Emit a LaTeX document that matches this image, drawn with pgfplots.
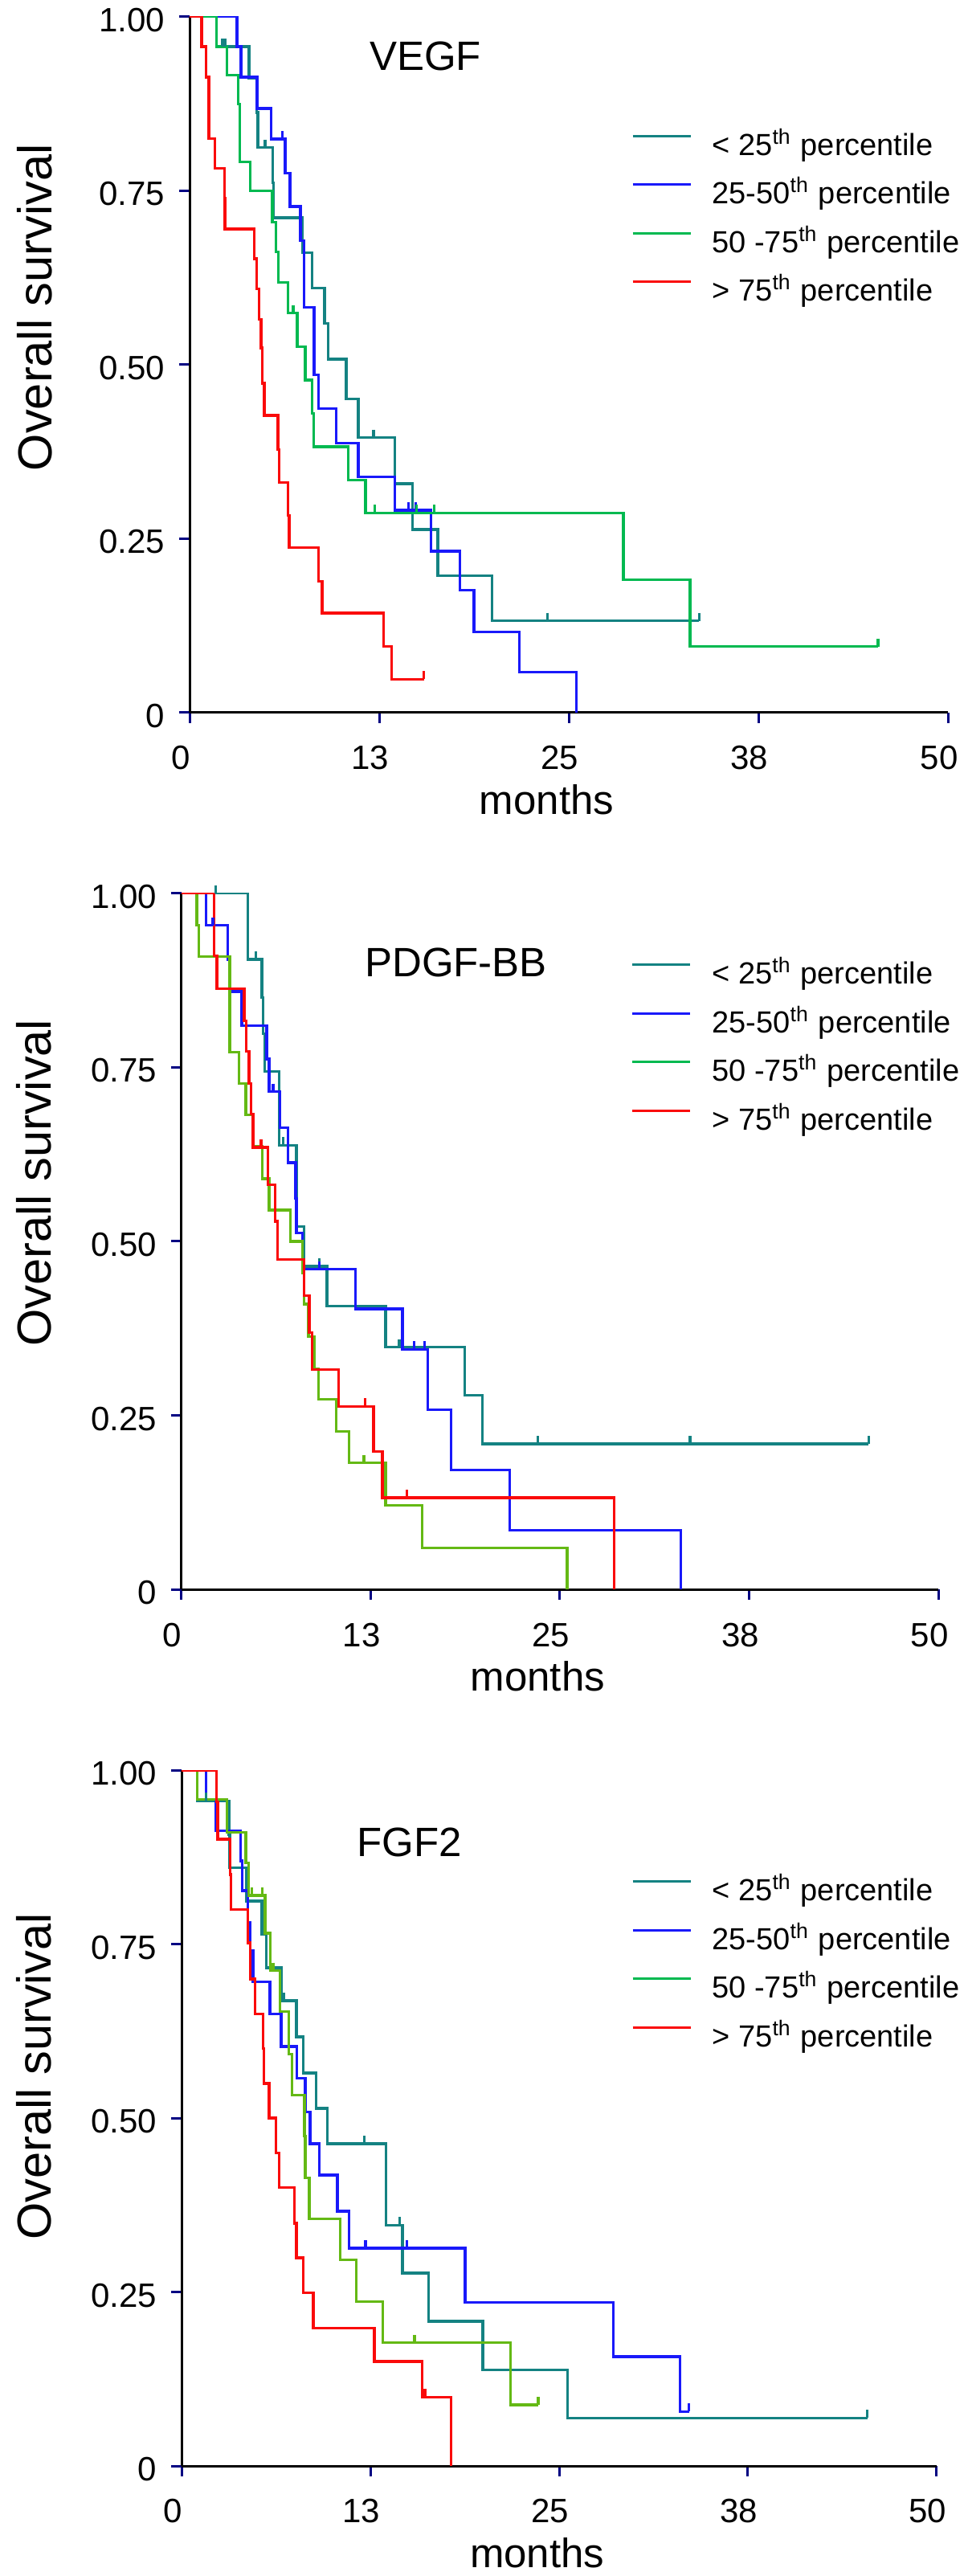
\documentclass[border=0pt]{standalone}
\usepackage{fontspec}
\setmainfont{Liberation Sans}
\usepackage{pgfplots}
\pgfplotsset{compat=1.18}

\definecolor{cteal}{RGB}{20,130,130}
\definecolor{cblue}{RGB}{25,25,250}
\definecolor{cgreen}{RGB}{0,185,80}
\definecolor{cygreen}{RGB}{100,185,20}
\definecolor{cred}{RGB}{250,10,10}
\definecolor{cnavy}{RGB}{0,0,130}

\pgfplotsset{
 km/.style={
  scale only axis,
  xmin=0,xmax=50,ymin=0,ymax=1,
  axis lines=left, axis line style={-, line width=0.6pt, black},
  xtick={0,12.5,25,37.5,50}, xticklabels={0,13,25,38,50},
  ytick={0,0.25,0.5,0.75,1}, yticklabels={0,0.25,0.50,0.75,1.00},
  tick align=outside, major tick length=2.6pt,
  tick style={cnavy, line width=0.6pt},
  ticklabel style={font=\fontsize{8.4}{10}\selectfont},
  xticklabel style={xshift=-2.2pt, yshift=-2.2pt},
  yticklabel style={yshift=-0.8pt},
  xlabel={months}, ylabel={Overall survival},
  xlabel style={font=\fontsize{10.2}{12}\selectfont, at={(axis description cs:0.471,-0.125)}, anchor=center},
  ylabel style={font=\fontsize{11.9}{14}\selectfont, anchor=center},
  title style={anchor=center, yshift=-6pt, font=\fontsize{10.2}{12}\selectfont},
  legend cell align=left,
  legend style={draw=none, fill=none, anchor=north west,
    font=\fontsize{7.6}{9}\selectfont, row sep=4.1pt,
    inner sep=0pt, nodes={inner sep=0pt, text height=6pt, text depth=2pt},
    cells={anchor=west}},
  legend image code/.code={\draw[#1, line width=0.6pt] (0pt,2.8pt) -- (14.4pt,2.8pt); \path (19.6pt,2.8pt);},
 },
 curve/.style={line width=0.68pt, const plot, forget plot},
 cens/.style={line width=0.68pt, only marks, mark=|, mark size=1pt, mark options={yshift=1pt}, forget plot},
}

\newcommand{\kmlegend}{%
  \addlegendimage{cteal}\addlegendentry{< 25\textsuperscript{th} percentile}
  \addlegendimage{cblue}\addlegendentry{25-50\textsuperscript{th} percentile}
  \addlegendimage{cgreen}\addlegendentry{50 -75\textsuperscript{th} percentile}
  \addlegendimage{cred}\addlegendentry{> 75\textsuperscript{th} percentile}%
}

\begin{document}
\begin{tikzpicture}
\path[use as bounding box] (0pt,0pt) rectangle (240pt,641.2pt);

% ---------------- Panel 1: VEGF ----------------
\begin{axis}[km, at={(47.2pt,463.8pt)}, anchor=south west,
  width=188.8pt, height=173.26pt,
  ylabel style={at={(axis description cs:-0.2045,0.582)}},
  title={VEGF}, title style={at={(axis description cs:0.311,0.943)}},
  legend style={at={(axis description cs:0.5816,0.8365)}}]
\kmlegend
\addplot[curve, cteal] coordinates {(0,1) (1.77,0.957) (3.92,0.911) (4.41,0.862) (4.50,0.812) (5.47,0.761) (5.54,0.711) (7.45,0.661) (8.07,0.610) (8.90,0.559) (9.13,0.508) (10.33,0.451) (11.12,0.395) (13.54,0.329) (14.69,0.263) (16.37,0.197) (19.93,0.132) (33.6,0.132)};
\addplot[cens, cteal] coordinates {(2.15,0.957) (2.33,0.957) (4.98,0.812) (12.13,0.395) (23.6,0.132) (33.6,0.132)};
\addplot[curve, cblue] coordinates {(0,1) (3.13,0.957) (3.39,0.913) (4.45,0.868) (5.39,0.824) (6.30,0.775) (6.62,0.727) (7.31,0.678) (7.54,0.582) (8.21,0.485) (8.51,0.437) (9.66,0.387) (11.12,0.339) (13.54,0.291) (15.92,0.232) (17.81,0.176) (18.75,0.116) (21.75,0.058) (25.5,0)};
\addplot[cens, cblue] coordinates {(6.13,0.824) (14.42,0.291) (14.9,0.291)};
\addplot[curve, cgreen] coordinates {(0,1) (1.77,0.957) (2.47,0.916) (3.21,0.874) (3.30,0.791) (4.01,0.750) (5.45,0.705) (5.69,0.662) (5.86,0.618) (6.48,0.574) (7.10,0.526) (7.63,0.478) (8.07,0.430) (8.19,0.382) (10.45,0.334) (11.60,0.287) (28.6,0.191) (33.0,0.095) (45.4,0.095)};
\addplot[cens, cgreen] coordinates {(6.83,0.574) (12.22,0.287) (14.95,0.287) (16.14,0.287) (45.4,0.095)};
\addplot[curve, cred] coordinates {(0,1) (0.79,0.957) (1.09,0.913) (1.27,0.825) (1.68,0.782) (2.30,0.739) (2.33,0.695) (4.27,0.652) (4.41,0.609) (4.59,0.565) (4.71,0.524) (4.80,0.473) (4.93,0.427) (5.83,0.378) (5.90,0.331) (6.48,0.283) (6.57,0.237) (8.51,0.189) (8.74,0.143) (12.78,0.095) (13.33,0.048) (15.45,0.048)};
\addplot[cens, cred] coordinates {(15.45,0.048)};
\end{axis}

% ---------------- Panel 2: PDGF-BB ----------------
\begin{axis}[km, at={(45.1pt,245.54pt)}, anchor=south west,
  width=188.5pt, height=173.32pt,
  ylabel style={at={(axis description cs:-0.1947,0.584)}},
  title={PDGF-BB}, title style={at={(axis description cs:0.363,0.900)}},
  legend style={at={(axis description cs:0.5936,0.905)}}]
\kmlegend
\addplot[curve, cteal] coordinates {(0,1) (4.40,0.905) (5.33,0.850) (5.42,0.798) (5.51,0.744) (6.47,0.638) (7.62,0.521) (8.11,0.464) (9.62,0.407) (13.51,0.348) (18.73,0.279) (19.88,0.209) (45.4,0.209)};
\addplot[cens, cteal] coordinates {(2.27,1.0) (4.93,0.905) (6.75,0.638) (9.14,0.464) (14.4,0.348) (23.56,0.209) (33.6,0.209) (45.4,0.209)};
\addplot[curve, cblue] coordinates {(0,1) (1.65,0.954) (3.07,0.905) (3.25,0.859) (4.01,0.810) (5.64,0.762) (5.81,0.715) (6.52,0.663) (7.05,0.613) (7.55,0.562) (7.62,0.512) (8.02,0.460) (11.51,0.403) (14.62,0.345) (16.29,0.258) (17.81,0.172) (21.70,0.085) (33.0,0)};
\addplot[cens, cblue] coordinates {(2.10,0.954) (6.08,0.715) (9.14,0.460) (15.4,0.345) (16.07,0.345)};
\addplot[curve, cygreen] coordinates {(0,1) (1.03,0.954) (1.18,0.909) (3.21,0.772) (3.83,0.727) (4.27,0.682) (4.75,0.637) (5.37,0.590) (5.81,0.545) (7.23,0.500) (8.02,0.455) (8.11,0.410) (8.40,0.363) (8.82,0.317) (9.08,0.273) (10.24,0.227) (11.09,0.182) (13.51,0.121) (15.90,0.060) (25.5,0)};
\addplot[cens, cygreen] coordinates {(12.06,0.182)};
\addplot[curve, cred] coordinates {(0,1) (2.19,0.910) (2.36,0.863) (4.17,0.817) (4.31,0.773) (4.49,0.727) (4.61,0.683) (4.75,0.635) (5.72,0.581) (6.20,0.529) (6.38,0.474) (8.11,0.422) (8.47,0.369) (8.64,0.316) (10.41,0.263) (12.71,0.198) (13.28,0.132) (28.6,0)};
\addplot[cens, cred] coordinates {(5.28,0.635) (12.15,0.263) (14.9,0.132)};
\end{axis}

% ---------------- Panel 3: FGF2 ----------------
\begin{axis}[km, at={(45.2pt,27.4pt)}, anchor=south west,
  width=188pt, height=173.14pt,
  ylabel style={at={(axis description cs:-0.1957,0.56)}},
  title={FGF2}, title style={at={(axis description cs:0.302,0.896)}},
  legend style={at={(axis description cs:0.5947,0.848)}}]
\kmlegend
\addplot[curve, cteal] coordinates {(0,1) (1.05,0.956) (3.14,0.908) (3.20,0.860) (4.29,0.812) (5.32,0.764) (5.62,0.716) (6.60,0.669) (7.61,0.617) (8.07,0.565) (8.90,0.514) (9.65,0.463) (13.55,0.346) (14.63,0.277) (16.35,0.208) (19.95,0.138) (25.57,0.069) (45.4,0.069)};
\addplot[cens, cteal] coordinates {(1.63,0.956) (6.77,0.669) (12.09,0.463) (14.45,0.346) (45.4,0.069)};
\addplot[curve, cblue] coordinates {(0,1) (1.63,0.958) (2.25,0.913) (3.90,0.870) (4.02,0.827) (4.38,0.781) (4.56,0.741) (4.73,0.696) (5.85,0.650) (6.60,0.603) (7.62,0.557) (8.19,0.509) (8.51,0.463) (9.11,0.418) (10.32,0.366) (11.08,0.313) (18.78,0.235) (28.6,0.157) (33.0,0.078) (33.6,0.078)};
\addplot[cens, cblue] coordinates {(12.18,0.313) (14.93,0.313) (33.6,0.078)};
\addplot[curve, cygreen] coordinates {(0,1) (1.05,0.958) (3.01,0.911) (4.26,0.867) (4.43,0.820) (5.53,0.766) (5.89,0.712) (6.51,0.653) (7.09,0.592) (7.30,0.533) (8.14,0.474) (8.19,0.414) (8.46,0.355) (10.50,0.296) (11.56,0.236) (13.33,0.177) (21.79,0.088) (23.62,0.088)};
\addplot[cens, cygreen] coordinates {(4.65,0.820) (5.35,0.820) (6.06,0.712) (15.43,0.177) (23.62,0.088)};
\addplot[curve, cred] coordinates {(0,1) (2.30,0.955) (2.39,0.901) (3.23,0.850) (3.27,0.800) (4.40,0.752) (4.55,0.700) (4.87,0.650) (5.40,0.600) (5.44,0.550) (5.80,0.500) (6.24,0.450) (6.47,0.400) (7.48,0.349) (7.61,0.299) (8.07,0.249) (8.72,0.198) (12.77,0.150) (15.94,0.099) (17.85,0)};
\addplot[cens, cred] coordinates {(16.12,0.099)};
\end{axis}
\end{tikzpicture}
\end{document}
